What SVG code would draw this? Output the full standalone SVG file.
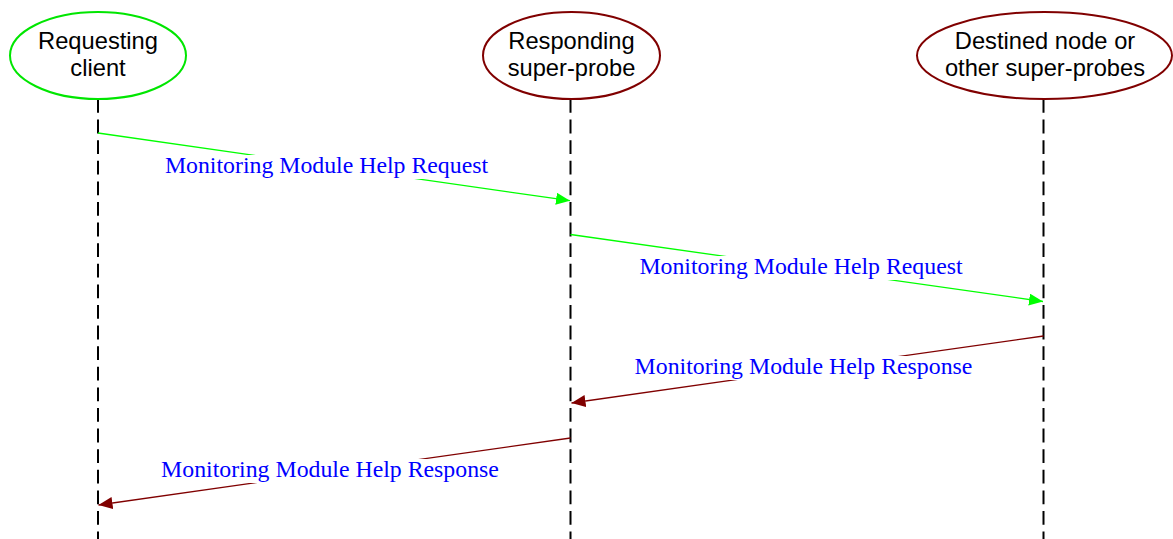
<svg xmlns="http://www.w3.org/2000/svg" width="1173" height="539" viewBox="0 0 1173 539">
  <style>
    .actor { fill: #ffffff; stroke-width: 2; }
    .actor-text { font-family: "Liberation Sans", Arial, sans-serif; font-size: 23.7px; fill: #000000; text-anchor: middle; }
    .lifeline { stroke: #000000; stroke-width: 2; stroke-dasharray: 13.8 6.8; fill: none; }
    .msg { stroke-width: 1.3; fill: none; }
    .msg-label { font-family: "Liberation Serif", "Times New Roman", serif; font-size: 23.8px; fill: #0000ff; text-anchor: middle; }
    .label-bg { fill: #ffffff; }
    .req { stroke: #00ff00; }
    .resp { stroke: #800000; }
  </style>
  <defs>
    <marker id="head-green" markerUnits="userSpaceOnUse" markerWidth="15" markerHeight="13" refX="14" refY="6" orient="auto">
      <path d="M0,0 L14,6 L0,12 Z" fill="#00ff00"/>
    </marker>
    <marker id="head-red" markerUnits="userSpaceOnUse" markerWidth="15" markerHeight="13" refX="14" refY="6" orient="auto">
      <path d="M0,0 L14,6 L0,12 Z" fill="#800000"/>
    </marker>
  </defs>

  <rect x="0" y="0" width="1173" height="539" fill="#ffffff"/>

  <!-- lifelines -->
  <g id="lifelines">
    <line class="lifeline" x1="98" y1="99" x2="98" y2="539"/>
    <line class="lifeline" x1="570.5" y1="99" x2="570.5" y2="539"/>
    <line class="lifeline" x1="1043.5" y1="99" x2="1043.5" y2="539"/>
  </g>

  <!-- participants -->
  <g id="requesting-client">
    <ellipse class="actor" cx="98" cy="55.5" rx="88" ry="43.5" stroke="#00e600"/>
    <text class="actor-text" x="98" y="48.5">Requesting</text>
    <text class="actor-text" x="98" y="76">client</text>
  </g>
  <g id="responding-super-probe">
    <ellipse class="actor" cx="571.5" cy="55.5" rx="88.5" ry="43.5" stroke="#800000"/>
    <text class="actor-text" x="571.5" y="48.5">Responding</text>
    <text class="actor-text" x="571.5" y="76">super-probe</text>
  </g>
  <g id="destined-node">
    <ellipse class="actor" cx="1044.5" cy="55.5" rx="127.5" ry="43.5" stroke="#800000"/>
    <text class="actor-text" x="1045" y="48.5">Destined node or</text>
    <text class="actor-text" x="1045" y="76">other super-probes</text>
  </g>

  <!-- messages -->
  <g id="connectors">
    <line class="msg req" x1="98" y1="133" x2="570" y2="200.7" marker-end="url(#head-green)"/>
    <rect class="label-bg" x="163" y="155" width="328" height="24"/>
    <text class="msg-label" x="326.5" y="173">Monitoring Module Help Request</text>

    <line class="msg req" x1="570.5" y1="234.5" x2="1043" y2="301.5" marker-end="url(#head-green)"/>
    <rect class="label-bg" x="637" y="256" width="328" height="24"/>
    <text class="msg-label" x="801" y="274">Monitoring Module Help Request</text>

    <line class="msg resp" x1="1043.5" y1="336" x2="571.5" y2="403" marker-end="url(#head-red)"/>
    <rect class="label-bg" x="632" y="356" width="343" height="24"/>
    <text class="msg-label" x="803.5" y="374">Monitoring Module Help Response</text>

    <line class="msg resp" x1="570.5" y1="438" x2="98.5" y2="505" marker-end="url(#head-red)"/>
    <rect class="label-bg" x="159" y="459" width="342" height="24"/>
    <text class="msg-label" x="330" y="477">Monitoring Module Help Response</text>
  </g>
</svg>
